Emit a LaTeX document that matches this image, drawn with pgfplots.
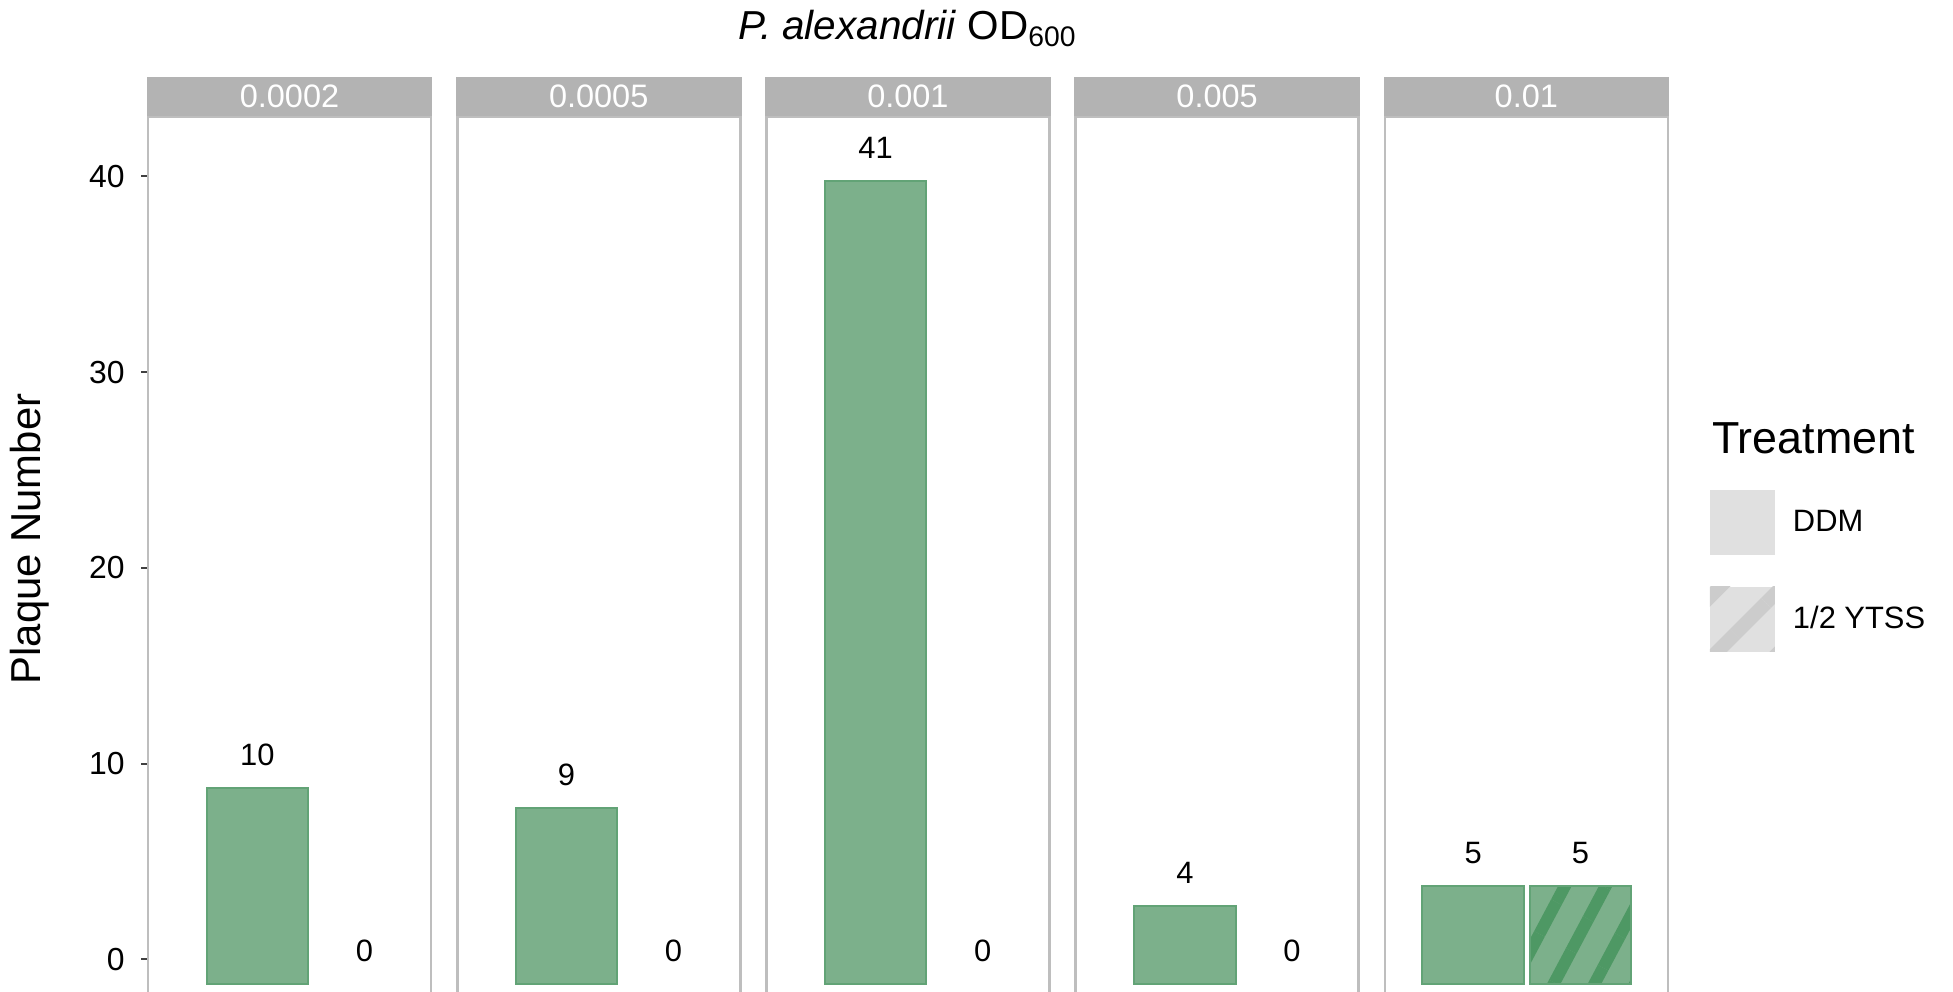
\documentclass[border=0pt]{standalone}
\usepackage{fontspec}
\setmainfont{Liberation Sans}
\usepackage{pgfplots}
\usepackage{pgfplotstable}
\pgfplotsset{compat=1.18}
\usetikzlibrary{patterns.meta}

\definecolor{barfill}{RGB}{124,176,139}
\definecolor{baredge}{RGB}{98,163,118}
\definecolor{stripe}{RGB}{78,152,100}
\definecolor{stripbg}{RGB}{179,179,179}
\definecolor{border}{RGB}{190,190,190}
\definecolor{legfill}{RGB}{224,224,224}
\definecolor{legstripe}{RGB}{204,204,204}

\newcommand{\fs}[1]{\fontsize{#1}{#1}\selectfont}

% x = position inside the panel, v = plaque number
\pgfplotstableread{
x v
1.02 10
2.02 0
}\pA
\pgfplotstableread{
x v
1.02 9
2.02 0
}\pB
\pgfplotstableread{
x v
1.02 41
2.02 0
}\pC
\pgfplotstableread{
x v
1.02 4
2.02 0
}\pD
\pgfplotstableread{
x v
0.825 5
1.827 5
}\pE

\pgfplotsset{
  panel/.style={
    scale only axis, width=141.5bp, height=447.65bp,
    xmin=0, xmax=2.642, ymin=-1.432, ymax=44.30,
    xtick=\empty, ytick=\empty,
    axis line style={draw=border, line width=1.3bp},
    clip=false, anchor=south west,
    /pgf/number format/assume math mode=true,
    every axis title/.style={at={(0.5,1)}, anchor=south, fill=stripbg, text=white,
      minimum width=142.8bp, minimum height=19.5bp, inner sep=0pt,
      font=\fs{16.3}},
  },
  bars/.style={ybar, bar width=50.75bp, bar shift=0pt, fill=barfill,
    draw=baredge, line width=1bp},
  vals/.style={draw=none, mark=none, nodes near coords, point meta=explicit,
    every node near coord/.append style={anchor=base, font=\fs{15.5},
      text=black, inner sep=0pt}},
}

\begin{document}
\begin{tikzpicture}
% panel 1
\begin{axis}[panel, at={(74bp,-10bp)}, title={0.0002},
  ytick={1.25,11.25,21.25,31.25,41.25}, yticklabels={0,10,20,30,40},
  ytick pos=left, tick align=outside, major tick length=3.5bp,
  ytick style={draw=black!75, line width=1bp},
  yticklabel style={font=\fs{16}, anchor=east, inner sep=0pt, xshift=-8bp}]
\addplot[bars, skip coords between index={1}{2}] table[x=x, y expr=\thisrow{v}] {\pA};
\addplot[vals] table[x=x, y expr=\thisrow{v}+1.15, meta=v] {\pA};
\end{axis}
% panel 2
\begin{axis}[panel, at={(228.6bp,-10bp)}, title={0.0005}]
\addplot[bars, skip coords between index={1}{2}] table[x=x, y expr=\thisrow{v}] {\pB};
\addplot[vals] table[x=x, y expr=\thisrow{v}+1.15, meta=v] {\pB};
\end{axis}
% panel 3
\begin{axis}[panel, at={(383.2bp,-10bp)}, title={0.001}]
\addplot[bars, skip coords between index={1}{2}] table[x=x, y expr=\thisrow{v}] {\pC};
\addplot[vals] table[x=x, y expr=\thisrow{v}+1.15, meta=v] {\pC};
\end{axis}
% panel 4
\begin{axis}[panel, at={(537.8bp,-10bp)}, title={0.005}]
\addplot[bars, skip coords between index={1}{2}] table[x=x, y expr=\thisrow{v}] {\pD};
\addplot[vals] table[x=x, y expr=\thisrow{v}+1.15, meta=v] {\pD};
\end{axis}
% panel 5
\begin{axis}[panel, at={(692.4bp,-10bp)}, title={0.01},
  legend image code/.code={\fill[#1] (0bp,-16.25bp) rectangle (32.5bp,16.25bp);},
  legend cell align=left,
  legend style={at={(1.149,0.583)}, anchor=north west, draw=none, fill=none,
    inner sep=0pt, outer sep=0pt, row sep=15.85bp, font=\fs{15.5},
    nodes={inner sep=0pt},
    /tikz/every odd column/.append style={column sep=9bp}}]
\addlegendimage{fill=legfill, draw=none}
\addlegendentry{DDM}
\addlegendimage{fill=legfill, draw=none,
  postaction={pattern={Lines[angle=45,distance=22bp,line width=7bp,xshift=4bp]}, pattern color=legstripe}}
\addlegendentry{1/2 YTSS}
\addplot[bars, skip coords between index={1}{2}] table[x=x, y expr=\thisrow{v}] {\pE};
\addplot[bars, skip coords between index={0}{1},
  postaction={pattern={Lines[angle=62,distance=18bp,line width=6bp]}, pattern color=stripe}]
  table[x=x, y expr=\thisrow{v}] {\pE};
\addplot[vals] table[x=x, y expr=\thisrow{v}+1.15, meta=v] {\pE};
\end{axis}

\node[anchor=base, font=\fs{20.3}] at (453.75bp,476bp) {\textit{P. alexandrii} OD\textsubscript{600}};
\node[rotate=90, font=\fs{21}] at (15bp,226.5bp) {Plaque Number};
\node[anchor=base west, font=\fs{22.5}, inner sep=0pt] at (855.85bp,269.35bp) {Treatment};

\pgfresetboundingbox
\path[use as bounding box] (0bp,0bp) rectangle (976.5bp,496bp);
\end{tikzpicture}
\end{document}
